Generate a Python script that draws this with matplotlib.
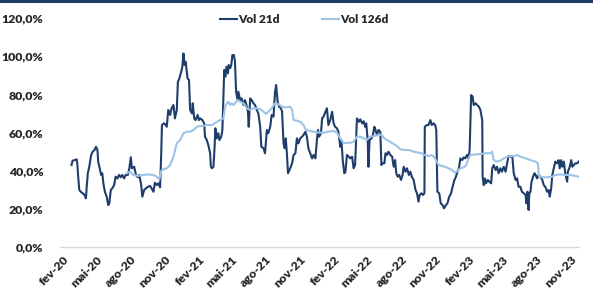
import matplotlib
matplotlib.use("Agg")
import matplotlib.pyplot as plt
from matplotlib.lines import Line2D
from matplotlib.ticker import FuncFormatter
import pandas as pd

# Vol 21d (annualised, %)
vol21_dates = [
    "2020-02-24", "2020-02-27", "2020-03-04", "2020-03-09", "2020-03-11", "2020-03-13", "2020-03-16", "2020-03-20",
    "2020-03-25", "2020-03-30", "2020-04-03", "2020-04-05", "2020-04-08", "2020-04-12", "2020-04-17", "2020-04-21",
    "2020-04-26", "2020-04-30", "2020-05-04", "2020-05-06", "2020-05-11", "2020-05-14", "2020-05-17", "2020-05-20",
    "2020-05-24", "2020-05-29", "2020-06-02", "2020-06-05", "2020-06-09", "2020-06-13", "2020-06-18", "2020-06-22",
    "2020-06-27", "2020-07-01", "2020-07-06", "2020-07-10", "2020-07-15", "2020-07-19", "2020-07-25", "2020-07-29",
    "2020-08-02", "2020-08-05", "2020-08-11", "2020-08-16", "2020-08-21", "2020-08-25", "2020-08-30", "2020-09-02",
    "2020-09-07", "2020-09-12", "2020-09-17", "2020-09-23", "2020-09-27", "2020-10-02", "2020-10-06", "2020-10-11",
    "2020-10-15", "2020-10-20", "2020-10-23", "2020-10-25", "2020-10-30", "2020-11-02", "2020-11-07", "2020-11-11",
    "2020-11-16", "2020-11-20", "2020-11-25", "2020-11-29", "2020-12-04", "2020-12-07", "2020-12-11", "2020-12-16",
    "2020-12-19", "2020-12-22", "2020-12-25", "2020-12-28", "2021-01-02", "2021-01-06", "2021-01-09", "2021-01-14",
    "2021-01-16", "2021-01-20", "2021-01-24", "2021-01-29", "2021-02-02", "2021-02-05", "2021-02-11", "2021-02-16",
    "2021-02-18", "2021-02-23", "2021-02-27", "2021-03-04", "2021-03-06", "2021-03-09", "2021-03-13", "2021-03-16",
    "2021-03-18", "2021-03-22", "2021-03-26", "2021-03-29", "2021-04-03", "2021-04-06", "2021-04-11", "2021-04-14",
    "2021-04-17", "2021-04-21", "2021-04-23", "2021-04-27", "2021-04-30", "2021-05-03", "2021-05-07", "2021-05-10",
    "2021-05-13", "2021-05-17", "2021-05-19", "2021-05-24", "2021-05-28", "2021-06-02", "2021-06-06", "2021-06-11",
    "2021-06-14", "2021-06-16", "2021-06-20", "2021-06-24", "2021-06-29", "2021-07-03", "2021-07-08", "2021-07-12",
    "2021-07-17", "2021-07-20", "2021-07-26", "2021-07-30", "2021-08-04", "2021-08-08", "2021-08-13", "2021-08-17",
    "2021-08-22", "2021-08-26", "2021-08-29", "2021-09-02", "2021-09-06", "2021-09-11", "2021-09-14", "2021-09-18",
    "2021-09-21", "2021-09-24", "2021-09-27", "2021-09-30", "2021-10-06", "2021-10-11", "2021-10-15", "2021-10-20",
    "2021-10-24", "2021-10-28", "2021-11-02", "2021-11-07", "2021-11-11", "2021-11-16", "2021-11-20", "2021-11-24",
    "2021-11-29", "2021-12-04", "2021-12-08", "2021-12-13", "2021-12-17", "2021-12-20", "2021-12-23", "2021-12-28",
    "2021-12-31", "2022-01-04", "2022-01-09", "2022-01-13", "2022-01-17", "2022-01-22", "2022-01-27", "2022-01-31",
    "2022-02-04", "2022-02-09", "2022-02-13", "2022-02-18", "2022-02-21", "2022-02-25", "2022-03-01", "2022-03-04",
    "2022-03-08", "2022-03-13", "2022-03-17", "2022-03-22", "2022-03-26", "2022-03-30", "2022-04-04", "2022-04-09",
    "2022-04-13", "2022-04-18", "2022-04-22", "2022-04-26", "2022-04-29", "2022-05-03", "2022-05-05", "2022-05-08",
    "2022-05-13", "2022-05-17", "2022-05-21", "2022-05-24", "2022-05-28", "2022-06-01", "2022-06-06", "2022-06-09",
    "2022-06-12", "2022-06-17", "2022-06-20", "2022-06-24", "2022-06-28", "2022-07-03", "2022-07-08", "2022-07-12",
    "2022-07-16", "2022-07-19", "2022-07-23", "2022-07-27", "2022-08-01", "2022-08-05", "2022-08-08", "2022-08-13",
    "2022-08-17", "2022-08-22", "2022-08-26", "2022-08-30", "2022-09-04", "2022-09-09", "2022-09-13", "2022-09-17",
    "2022-09-20", "2022-09-25", "2022-09-29", "2022-10-03", "2022-10-04", "2022-10-10", "2022-10-14", "2022-10-19",
    "2022-10-23", "2022-10-28", "2022-11-01", "2022-11-04", "2022-11-07", "2022-11-12", "2022-11-16", "2022-11-21",
    "2022-11-25", "2022-11-30", "2022-12-04", "2022-12-09", "2022-12-14", "2022-12-18", "2022-12-23", "2022-12-27",
    "2022-12-31", "2023-01-04", "2023-01-08", "2023-01-13", "2023-01-17", "2023-01-21", "2023-01-26", "2023-01-30",
    "2023-02-02", "2023-02-06", "2023-02-10", "2023-02-13", "2023-02-18", "2023-02-22", "2023-02-27", "2023-03-03",
    "2023-03-08", "2023-03-09", "2023-03-12", "2023-03-15", "2023-03-18", "2023-03-23", "2023-03-27", "2023-04-01",
    "2023-04-04", "2023-04-08", "2023-04-13", "2023-04-17", "2023-04-21", "2023-04-26", "2023-04-30", "2023-05-05",
    "2023-05-10", "2023-05-14", "2023-05-18", "2023-05-23", "2023-05-28", "2023-06-01", "2023-06-06", "2023-06-10",
    "2023-06-14", "2023-06-19", "2023-06-23", "2023-06-28", "2023-07-03", "2023-07-05", "2023-07-08", "2023-07-11",
    "2023-07-13", "2023-07-16", "2023-07-19", "2023-07-23", "2023-07-27", "2023-07-30", "2023-08-03", "2023-08-07",
    "2023-08-12", "2023-08-17", "2023-08-21", "2023-08-25", "2023-08-30", "2023-09-03", "2023-09-06", "2023-09-10",
    "2023-09-13", "2023-09-17", "2023-09-21", "2023-09-26", "2023-09-30", "2023-10-03", "2023-10-07", "2023-10-10",
    "2023-10-14", "2023-10-18", "2023-10-23", "2023-10-25", "2023-10-30", "2023-11-03", "2023-11-06", "2023-11-10",
    "2023-11-14", "2023-11-19", "2023-11-23",
]
vol21 = [
    43.0, 45.3, 45.6, 46.0, 43.0, 36.9, 29.9, 29.0,
    28.2, 27.3, 25.5, 31.6, 38.7, 42.1, 48.3, 50.0,
    50.9, 52.6, 50.9, 44.8, 40.4, 37.8, 38.7, 33.4,
    29.0, 26.4, 22.0, 22.9, 29.9, 30.8, 32.5, 36.9,
    36.0, 37.8, 36.6, 37.8, 36.0, 37.8, 37.8, 41.3,
    47.1, 41.3, 42.1, 37.8, 36.6, 37.8, 32.5, 26.4,
    29.9, 30.8, 31.6, 32.0, 30.8, 29.0, 33.7, 32.5,
    33.4, 31.3, 49.2, 64.0, 64.9, 64.5, 63.1, 71.9,
    69.3, 72.8, 74.5, 67.5, 71.9, 86.7, 88.5, 92.0,
    94.6, 101.6, 95.5, 97.2, 88.5, 87.6, 71.9, 70.1,
    75.4, 67.5, 66.6, 69.3, 66.6, 67.5, 66.6, 64.9,
    57.9, 56.1, 53.5, 49.2, 42.1, 41.3, 42.1, 52.6,
    62.3, 57.0, 59.7, 56.1, 57.9, 61.4, 92.9, 89.4,
    94.6, 91.1, 95.5, 93.8, 95.5, 100.7, 100.7, 97.2,
    81.5, 77.1, 81.5, 77.1, 78.0, 74.5, 77.1, 73.6,
    71.0, 63.1, 78.0, 77.1, 75.4, 74.5, 71.9, 70.1,
    63.1, 52.6, 51.8, 49.2, 61.4, 59.7, 63.1, 69.3,
    68.4, 81.5, 85.0, 76.2, 73.6, 72.8, 71.0, 54.4,
    51.8, 57.0, 49.2, 38.7, 41.3, 43.9, 48.3, 49.2,
    57.0, 54.4, 57.0, 57.9, 58.8, 60.5, 57.9, 51.8,
    49.2, 46.5, 48.3, 46.5, 56.1, 61.4, 57.9, 59.7,
    67.5, 68.4, 71.0, 72.8, 64.0, 66.6, 71.0, 64.9,
    63.1, 62.3, 60.5, 52.6, 56.1, 44.8, 38.7, 39.5,
    48.3, 47.4, 46.5, 47.4, 41.3, 43.0, 67.5, 65.7,
    67.0, 64.9, 66.0, 63.1, 64.9, 56.1, 42.1, 56.1,
    57.0, 58.8, 63.1, 61.4, 58.8, 61.4, 60.5, 43.0,
    43.9, 43.9, 49.2, 48.3, 50.0, 48.3, 47.4, 42.1,
    45.6, 38.7, 36.9, 37.8, 35.2, 37.8, 42.1, 39.5,
    41.3, 37.8, 39.5, 36.9, 35.2, 29.9, 28.2, 23.8,
    27.3, 28.2, 27.3, 28.2, 63.1, 64.0, 64.0, 66.6,
    64.0, 64.9, 64.0, 61.4, 29.0, 28.2, 22.9, 22.0,
    20.3, 22.0, 22.9, 26.4, 28.2, 31.6, 35.2, 36.9,
    39.5, 41.3, 46.5, 45.6, 47.0, 46.5, 48.3, 46.5,
    50.9, 79.7, 78.9, 74.5, 75.4, 74.5, 73.6, 71.9,
    66.6, 36.9, 32.5, 36.0, 33.4, 35.2, 34.3, 33.4,
    41.3, 43.0, 40.4, 42.1, 38.7, 41.3, 39.5, 42.1,
    39.5, 43.9, 47.7, 47.4, 47.7, 38.7, 35.2, 36.0,
    31.6, 31.6, 29.0, 28.2, 27.3, 22.9, 29.0, 19.4,
    28.2, 29.0, 34.3, 36.9, 38.7, 37.8, 36.0, 37.8,
    36.9, 35.2, 32.5, 31.6, 29.0, 29.9, 26.4, 30.8,
    37.8, 41.3, 44.8, 43.9, 45.6, 41.3, 45.6, 42.1,
    44.8, 38.7, 34.3, 39.5, 42.1, 45.6, 42.1, 43.0,
    43.9, 43.9, 44.8,
]

# Vol 126d (annualised, %)
vol126_dates = [
    "2020-07-22", "2020-07-31", "2020-08-09", "2020-08-22", "2020-09-05", "2020-09-18", "2020-10-02", "2020-10-11",
    "2020-10-18", "2020-10-23", "2020-10-30", "2020-11-07", "2020-11-16", "2020-11-25", "2020-12-04", "2020-12-13",
    "2020-12-22", "2020-12-31", "2021-01-09", "2021-01-18", "2021-01-23", "2021-01-27", "2021-02-05", "2021-02-14",
    "2021-02-23", "2021-03-09", "2021-03-22", "2021-03-31", "2021-04-09", "2021-04-13", "2021-04-18", "2021-04-22",
    "2021-04-27", "2021-05-01", "2021-05-06", "2021-05-10", "2021-05-17", "2021-05-24", "2021-06-02", "2021-06-11",
    "2021-06-20", "2021-06-29", "2021-07-08", "2021-07-17", "2021-07-26", "2021-08-02", "2021-08-08", "2021-08-17",
    "2021-08-26", "2021-09-04", "2021-09-14", "2021-09-23", "2021-10-06", "2021-10-11", "2021-10-15", "2021-10-24",
    "2021-11-02", "2021-11-11", "2021-11-16", "2021-11-24", "2021-12-08", "2021-12-22", "2022-01-04", "2022-01-17",
    "2022-01-31", "2022-02-09", "2022-02-18", "2022-02-27", "2022-03-08", "2022-03-17", "2022-03-26", "2022-04-04",
    "2022-04-13", "2022-04-22", "2022-05-01", "2022-05-10", "2022-05-19", "2022-06-01", "2022-06-10", "2022-06-17",
    "2022-06-24", "2022-07-03", "2022-07-12", "2022-07-21", "2022-07-30", "2022-08-08", "2022-08-22", "2022-09-04",
    "2022-09-17", "2022-09-26", "2022-10-01", "2022-10-07", "2022-10-14", "2022-10-23", "2022-11-01", "2022-11-10",
    "2022-11-19", "2022-11-28", "2022-12-07", "2022-12-16", "2022-12-25", "2022-12-31", "2023-01-08", "2023-01-17",
    "2023-01-24", "2023-01-30", "2023-02-04", "2023-02-18", "2023-03-03", "2023-03-17", "2023-03-30", "2023-04-03",
    "2023-04-08", "2023-04-17", "2023-04-26", "2023-05-05", "2023-05-14", "2023-05-23", "2023-06-01", "2023-06-10",
    "2023-06-19", "2023-07-03", "2023-07-16", "2023-07-30", "2023-08-05", "2023-08-08", "2023-08-17", "2023-08-30",
    "2023-09-13", "2023-09-21", "2023-10-05", "2023-10-18", "2023-11-01", "2023-11-14", "2023-11-23",
]
vol126 = [
    38.7, 39.5, 37.8, 37.3, 37.8, 38.1, 37.8, 36.9,
    35.5, 40.0, 40.9, 41.3, 43.0, 47.4, 54.4, 56.1,
    59.7, 60.5, 60.5, 61.4, 62.3, 63.1, 63.5, 63.5,
    64.0, 64.0, 65.7, 66.6, 67.5, 73.6, 75.4, 76.2,
    74.5, 75.4, 74.5, 75.4, 77.1, 76.2, 75.4, 72.8,
    71.9, 72.8, 72.8, 72.3, 71.0, 69.8, 71.0, 72.8,
    75.4, 75.0, 73.6, 73.3, 73.6, 71.9, 66.6, 66.3,
    65.7, 64.0, 61.8, 61.0, 60.5, 60.0, 60.0, 60.5,
    61.0, 60.0, 57.0, 54.4, 54.7, 54.7, 55.2, 57.9,
    57.9, 57.0, 56.3, 57.9, 58.2, 58.8, 58.8, 57.0,
    56.1, 55.2, 54.0, 53.0, 51.3, 50.9, 50.9, 50.0,
    49.5, 49.2, 48.3, 48.3, 47.7, 48.3, 46.5, 43.0,
    42.5, 42.1, 41.3, 40.4, 39.0, 39.9, 41.3, 41.8,
    43.0, 46.5, 48.3, 48.6, 48.8, 49.2, 49.2, 50.0,
    45.6, 44.8, 45.3, 46.5, 47.4, 47.7, 47.7, 48.3,
    47.4, 46.5, 45.6, 44.8, 43.9, 37.3, 36.6, 36.6,
    36.9, 37.8, 38.1, 37.8, 37.8, 37.3, 36.9,
]

tick_months = pd.date_range("2020-02-01", "2023-11-01", freq="3MS")
tick_labels = ["fev-20", "mai-20", "ago-20", "nov-20", "fev-21", "mai-21", "ago-21", "nov-21",
               "fev-22", "mai-22", "ago-22", "nov-22", "fev-23", "mai-23", "ago-23", "nov-23"]
y_ticks = [0, 20, 40, 60, 80, 100, 120]

dark = "#1F3D6B"
light = "#9DC3E6"

plt.rcParams["font.family"] = ["Lato", "DejaVu Sans"]
plt.rcParams["font.weight"] = "heavy"

fig = plt.figure(figsize=(5.93, 2.93), dpi=100)
ax = fig.add_axes([0.1012, 0.157, 0.8752, 0.7805])

ax.plot(pd.to_datetime(vol21_dates), vol21, color=dark, lw=1.5, label="Vol 21d")
ax.plot(pd.to_datetime(vol126_dates), vol126, color=light, lw=1.5, label="Vol 126d")

ax.set_ylim(0, 120)
ax.set_xlim(pd.Timestamp("2020-01-24"), pd.Timestamp("2023-11-24"))
ax.set_yticks(y_ticks)
ax.yaxis.set_major_formatter(FuncFormatter(lambda v, p: f"{v:.1f}%".replace(".", ",")))
ax.set_xticks(tick_months)
ax.set_xticklabels(tick_labels, rotation=45, ha="right", rotation_mode="anchor")

for s in ["top", "right", "left"]:
    ax.spines[s].set_visible(False)
ax.spines["bottom"].set_color("#D9D9D9")
ax.spines["bottom"].set_linewidth(1.0)
ax.tick_params(axis="both", length=0, labelsize=8.8, colors="#262626")
ax.tick_params(axis="y", pad=12)
ax.tick_params(axis="x", pad=5)

leg = fig.legend(loc="center", bbox_to_anchor=(0.513, 0.933), ncol=2, frameon=False,
                 fontsize=8.5, handlelength=1.4, handletextpad=0.1, columnspacing=3.6)
for t in leg.get_texts():
    t.set_color("#262626")

# dark rule along the top of the figure
fig.add_artist(Line2D([0, 1], [0.995, 0.995], transform=fig.transFigure, color="#1F3D6B", lw=2.2))

fig.savefig("out.png", dpi=100)
